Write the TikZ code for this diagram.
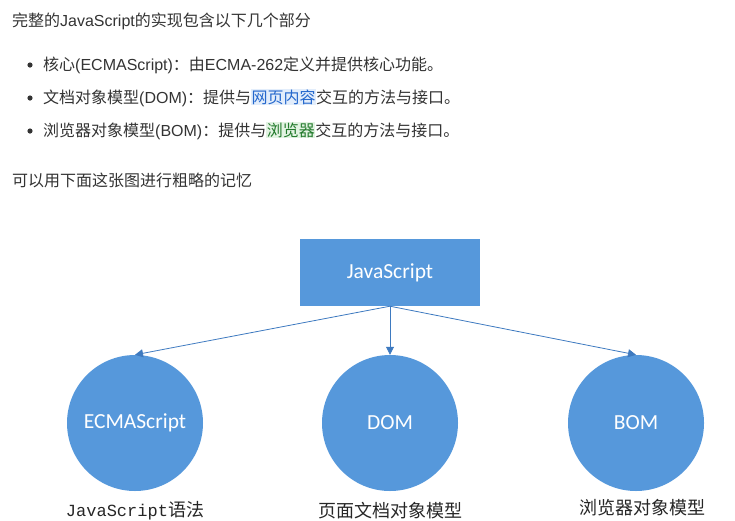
\documentclass[tikz,border=0pt]{standalone}
\usepackage{fontspec}
\setmainfont{Liberation Sans}
\setmonofont{Liberation Mono}
\newfontfamily\cjk{Noto Sans CJK SC}
\newfontfamily\boxfont{Carlito}
\usetikzlibrary{arrows.meta}
\usetikzlibrary{positioning}

\definecolor{partblue}{RGB}{86,152,219}
\definecolor{linkline}{RGB}{62,122,192}
\definecolor{bodygray}{RGB}{51,51,51}
\definecolor{hlblue}{RGB}{226,237,251}
\definecolor{hlbluetext}{RGB}{37,104,205}
\definecolor{hlgreen}{RGB}{226,243,226}
\definecolor{hlgreentext}{RGB}{34,122,44}

\newcommand{\zh}[1]{{\cjk #1}}   % chinese run
\newcommand{\markblue}[1]{{\setlength{\fboxsep}{0.5pt}\colorbox{hlblue}{\textcolor{hlbluetext}{\cjk #1}}}}
\newcommand{\markgreen}[1]{{\setlength{\fboxsep}{0.5pt}\colorbox{hlgreen}{\textcolor{hlgreentext}{\cjk #1}}}}

\tikzset{
  textline/.style={anchor=west, inner sep=0pt, text=bodygray, font=\fontsize{16}{19}\selectfont},
  jsbox/.style={rectangle, fill=partblue, text=white, minimum width=180pt, minimum height=67pt,
    font=\boxfont\fontsize{21.5}{24}\selectfont},
  partcircle/.style={circle, fill=partblue, text=white, minimum size=136pt, inner sep=0pt,
    font=\boxfont\fontsize{21.5}{24}\selectfont},
  partname/.style={inner sep=0pt, text=black!85, font=\cjk\fontsize{18}{20}\selectfont},
  link/.style={draw=linkline, line width=0.8pt, -{Triangle[length=8pt,width=8pt]}},
}

\begin{document}
\begin{tikzpicture}[x=1pt, y=-1pt]
\useasboundingbox (0,0) rectangle (735,520);

% text above the diagram
\node[textline] (intro) at (12,21) {\zh{完整的}JavaScript\zh{的实现包含以下几个部分}};

\fill[bodygray] (30,65) circle[radius=2.6pt];
\node[textline] (core) at (43,65) {\zh{核心}(ECMAScript)\zh{：由}ECMA-262\zh{定义并提供核心功能。}};
\fill[bodygray] (30,98) circle[radius=2.6pt];
\node[textline] (domline) at (43,98) {\zh{文档对象模型}(DOM)\zh{：提供与}\markblue{网页内容}\zh{交互的方法与接口。}};
\fill[bodygray] (30,131) circle[radius=2.6pt];
\node[textline] (bomline) at (43,131) {\zh{浏览器对象模型}(BOM)\zh{：提供与}\markgreen{浏览器}\zh{交互的方法与接口。}};

\node[textline] (memo) at (12,180) {\zh{可以用下面这张图进行粗略的记忆}};

% the diagram
\node[jsbox] (js) at (390,272.5) {JavaScript};

\node[partcircle] (ecma) at (135,423) {ECMAScript};
\node[partcircle] (dom) at (390,423) {DOM};
\node[partcircle] (bom) at (636,423) {BOM};

\draw[link] (js.south) -- (ecma.north);
\draw[link] (js.south) -- (dom.north);
\draw[link] (js.south) -- (bom.north);

\node[partname, below=10pt of ecma] (ecmaname) {{\fontsize{17}{20}\selectfont\ttfamily JavaScript}语法};
\node[partname, below=11pt of dom] (domname) {页面文档对象模型};
\node[partname, below=8pt of bom, xshift=6pt] (bomname) {浏览器对象模型};
\end{tikzpicture}
\end{document}
